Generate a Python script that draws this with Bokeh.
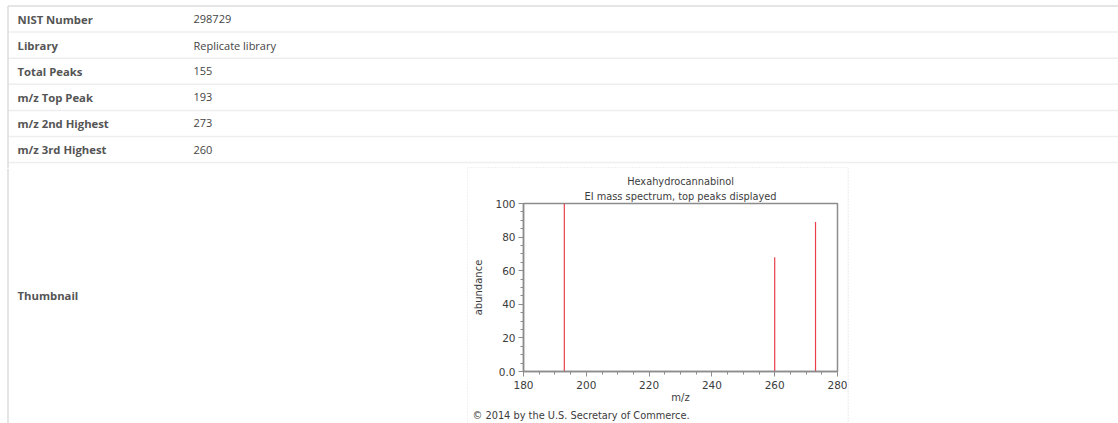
from bokeh.plotting import figure
from bokeh.layouts import column, row
from bokeh.models import Range1d, FixedTicker, Title
from bokeh.core.properties import value
from bokeh.embed import file_html
from bokeh.resources import INLINE

# ---- data ----
field_labels = ["NIST Number", "Library", "Total Peaks", "m/z Top Peak",
                "m/z 2nd Highest", "m/z 3rd Highest"]
field_values = ["298729", "Replicate library", "155", "193", "273", "260"]
thumb_label = "Thumbnail"

compound = "Hexahydrocannabinol"
subtitle = "EI mass spectrum, top peaks displayed"
copyright_text = "\u00a9 2014 by the U.S. Secretary of Commerce."
peak_mz = [193, 260, 273]
peak_abundance = [100, 68, 89]
x_ticks = [180, 200, 220, 240, 260, 280]
y_ticks = [0, 20, 40, 60, 80, 100]

TABLE_FONT = value("Open Sans")
SPEC_FONT = "DejaVu Sans"
LINE = "#eeeeee"
BORDER = "#dddddd"
DOT = "#c8c8c8"
TXT = "#3c3c3c"

W = 1118
TABLE_H = 168
BOT_H = 255
LEFT_W = 468
SPEC_W = 379
RIGHT_W = W - LEFT_W - SPEC_W


def blank(width, height, x0, x1, y0, y1):
    p = figure(width=width, height=height, x_range=Range1d(x0, x1),
               y_range=Range1d(y1, y0), output_backend="svg",
               toolbar_location=None, x_axis_location=None,
               y_axis_location=None, min_border=0, tools="",
               frame_align=False)
    p.grid.visible = False
    p.outline_line_color = None
    p.background_fill_color = "white"
    p.border_fill_color = "white"
    return p


# ---- table (top part) ----
tbl = blank(W, TABLE_H, 0, W, 0, TABLE_H)
row_h = 26.1
top = 5.5
lines_y = [top + row_h * (k + 1) for k in range(len(field_labels))]
tbl.segment(x0=7.5, x1=W, y0=[top], y1=[top], line_color=BORDER,
            line_width=1.5)
tbl.segment(x0=7.5, x1=W, y0=lines_y, y1=lines_y, line_color=LINE,
            line_width=1.5)
tbl.segment(x0=7.5, x1=7.5, y0=top, y1=TABLE_H, line_color=BORDER,
            line_width=1.5)
tbl.segment(x0=467, x1=848, y0=167.5, y1=167.5, line_color=DOT,
            line_width=1, line_dash="1 2")
centers = [top + row_h * (k + 0.5) for k in range(len(field_labels))]
tbl.text(x=17, y=centers, text=field_labels, text_baseline="middle",
         text_font=TABLE_FONT, text_font_style="bold",
         text_font_size="11.3px", text_color="#555555")
tbl.text(x=193, y=centers, text=field_values, text_baseline="middle",
         text_font=TABLE_FONT, text_font_size="11px", text_color="#444444")

# ---- bottom-left: Thumbnail label ----
y0b, y1b = TABLE_H, TABLE_H + BOT_H
left = blank(LEFT_W, BOT_H, 0, LEFT_W, y0b, y1b)
left.segment(x0=7.5, x1=7.5, y0=y0b, y1=y1b, line_color=BORDER,
             line_width=1.5)
left.segment(x0=467.5, x1=467.5, y0=y0b, y1=y1b, line_color=DOT,
             line_width=1, line_dash="1 2")
left.text(x=17, y=295, text=[thumb_label], text_baseline="middle",
          text_font=TABLE_FONT, text_font_style="bold",
          text_font_size="11.3px", text_color="#555555")

# ---- spectrum ----
spec = figure(width=SPEC_W, height=BOT_H, x_range=Range1d(180, 280),
              y_range=Range1d(0, 100), output_backend="svg",
              toolbar_location=None, tools="", frame_align=False,
              min_border_left=55, min_border_right=10,
              min_border_top=35, min_border_bottom=BOT_H - 35 - 168)
spec.title.text = compound
spec.title.align = "center"
spec.title.text_font = SPEC_FONT
spec.title.text_font_style = "normal"
spec.title.text_font_size = "9.8px"
spec.title.text_color = TXT
spec.title.standoff = 0
spec.add_layout(Title(text=subtitle, align="center", text_font=SPEC_FONT,
                      text_font_style="normal", text_font_size="9.8px",
                      text_color=TXT, standoff=4), "above")
spec.add_layout(Title(text=copyright_text, align="left", offset=-51,
                      text_font=SPEC_FONT, text_font_style="normal",
                      text_font_size="9.8px", text_color=TXT,
                      standoff=4), "below")
spec.grid.visible = False
spec.outline_line_color = "#8c8c8c"
spec.outline_line_width = 1.5
spec.background_fill_color = "white"
spec.border_fill_color = "white"

spec.segment(x0=peak_mz, y0=0, x1=peak_mz, y1=peak_abundance,
             line_color="#e8404a", line_width=1.2)

spec.xaxis.ticker = FixedTicker(ticks=x_ticks,
                                minor_ticks=list(range(180, 281, 5)))
spec.yaxis.ticker = FixedTicker(ticks=y_ticks,
                                minor_ticks=list(range(0, 101, 5)))
spec.yaxis.major_label_overrides = {0: "0.0"}
spec.xaxis.axis_label = "m/z"
spec.yaxis.axis_label = "abundance"
for ax in (spec.xaxis, spec.yaxis):
    ax.axis_line_color = "#8c8c8c"
    ax.axis_line_width = 1.5
    ax.major_tick_line_color = "#8c8c8c"
    ax.minor_tick_line_color = "#8c8c8c"
    ax.major_tick_out = 5
    ax.major_tick_in = 0
    ax.minor_tick_out = 3
    ax.minor_tick_in = 0
    ax.major_label_text_font = SPEC_FONT
    ax.major_label_text_font_size = "10.5px"
    ax.major_label_text_color = TXT
    ax.axis_label_text_font = SPEC_FONT
    ax.axis_label_text_font_size = "10px"
    ax.axis_label_text_font_style = "normal"
    ax.axis_label_text_color = TXT
spec.xaxis.major_label_standoff = 4
spec.xaxis.axis_label_standoff = 0
spec.yaxis.major_label_standoff = 3
spec.yaxis.axis_label_standoff = 8

# ---- bottom-right ----
right = blank(RIGHT_W, BOT_H, 847, W, y0b, y1b)
right.segment(x0=847.5, x1=847.5, y0=y0b, y1=y1b, line_color=DOT,
              line_width=1, line_dash="1 2")

layout = column(tbl, row(left, spec, right, spacing=0), spacing=0)
open("out.html", "w").write(file_html(layout, INLINE))
